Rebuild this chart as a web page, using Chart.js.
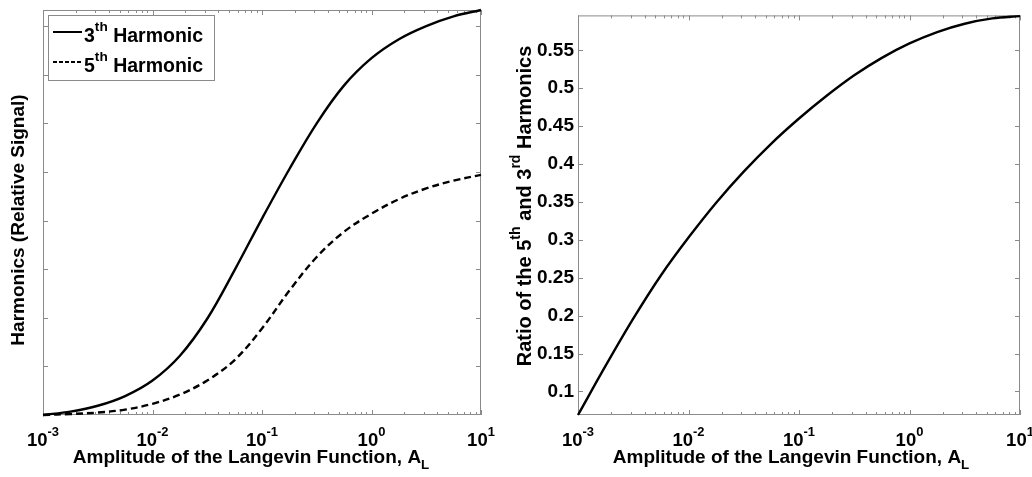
<!DOCTYPE html>
<html>
<head>
<meta charset="utf-8">
<script src="https://cdn.jsdelivr.net/npm/chart.js@4.4.1/dist/chart.umd.min.js"></script>
<style>
  html, body { margin: 0; padding: 0; background: #fff; }
  #wrap { position: relative; width: 1032px; height: 477px; overflow: hidden; }
  canvas { position: absolute; top: 0; }
  #left { left: 0; }
  #right { left: 500px; }
</style>
</head>
<body>
<div id="wrap">
  <canvas id="left" width="500" height="477"></canvas>
  <canvas id="right" width="532" height="477"></canvas>
</div>
<script>
// ── Data ──────────────────────────────────────────────────
const amplitude = [0.001, 0.00178, 0.00316, 0.00562, 0.01, 0.0178, 0.0316, 0.0562,
  0.1, 0.178, 0.316, 0.562, 1, 1.78, 3.16, 5.62, 10];
const harmonic3 = [0, 0.07, 0.19, 0.39, 0.71, 1.22, 1.98, 2.98,
  4.04, 5.06, 6.0, 6.78, 7.34, 7.73, 8.0, 8.2, 8.33];
const harmonic5 = [0, 0.02, 0.05, 0.11, 0.23, 0.42, 0.71, 1.13,
  1.78, 2.56, 3.25, 3.77, 4.14, 4.44, 4.66, 4.82, 4.94];
const ratio53 = [0.069, 0.134, 0.196, 0.253, 0.303, 0.349, 0.39, 0.427,
  0.46, 0.49, 0.517, 0.54, 0.559, 0.574, 0.585, 0.592, 0.595];

const xDecades = [-3, -2, -1, 0, 1];
const leftTicks = [1, 2, 3, 4, 5, 6, 7, 8];
const ratioTicks = [0.1, 0.15, 0.2, 0.25, 0.3, 0.35, 0.4, 0.45, 0.5, 0.55];
const ratioLabels = ["0.1", "0.15", "0.2", "0.25", "0.3", "0.35", "0.4", "0.45", "0.5", "0.55"];

// ── Style helpers ─────────────────────────────────────────
const FAMILY = '"Liberation Sans", Arial, Helvetica, sans-serif';
const AXIS_GRAY = "#8a8a8a";
const font = (size) => `bold ${size}px ${FAMILY}`;

// parts: [text, shift] with shift 1 = superscript, -1 = subscript
function richWidth(ctx, parts, size) {
  let w = 0;
  for (const [t, s] of parts) {
    ctx.font = font(s ? size * 0.7 : size);
    w += ctx.measureText(t).width;
  }
  return w;
}

function drawRich(ctx, parts, x, y, size, align) {
  const w = richWidth(ctx, parts, size);
  let cx = align === "center" ? x - w / 2 : align === "right" ? x - w : x;
  ctx.textAlign = "left";
  ctx.textBaseline = "alphabetic";
  for (const [t, s] of parts) {
    const fs = s ? size * 0.7 : size;
    ctx.font = font(fs);
    const dy = s === 1 ? -size * 0.55 : s === -1 ? size * 0.3 : 0;
    ctx.fillText(t, cx, y + dy);
    cx += ctx.measureText(t).width;
  }
}

const toPoints = (ys) => ys.map((v, i) => ({ x: amplitude[i], y: v }));

// frame + inward ticks, drawn under the curves
const frameTicks = {
  id: "frameTicks",
  beforeDatasetsDraw(chart) {
    const { ctx, chartArea: a, scales: { x, y } } = chart;
    ctx.save();
    ctx.strokeStyle = AXIS_GRAY;
    ctx.lineWidth = 1;
    ctx.strokeRect(a.left + 0.5, a.top + 0.5, a.right - a.left - 1, a.bottom - a.top - 1);
    ctx.beginPath();
    for (const e of xDecades) {
      for (let m = 1; m <= 9; m++) {
        const v = m * Math.pow(10, e);
        if (v > x.max * 1.0001) break;
        const px = Math.round(x.getPixelForValue(v)) + 0.5;
        const len = m === 1 ? 5 : 3;
        ctx.moveTo(px, a.bottom); ctx.lineTo(px, a.bottom - len);
        ctx.moveTo(px, a.top); ctx.lineTo(px, a.top + len);
      }
    }
    for (const t of y.ticks) {
      const py = Math.round(y.getPixelForValue(t.value)) + 0.5;
      ctx.moveTo(a.left, py); ctx.lineTo(a.left + 5, py);
      ctx.moveTo(a.right, py); ctx.lineTo(a.right - 5, py);
    }
    ctx.stroke();
    ctx.restore();
  },
};

// rich text: x tick labels, axis titles, legend
const richText = {
  id: "richText",
  afterDraw(chart, args, opts) {
    const { ctx, chartArea: a, scales: { x } } = chart;
    ctx.save();
    ctx.fillStyle = "#000";
    for (const e of xDecades) {
      const px = x.getPixelForValue(Math.pow(10, e));
      drawRich(ctx, [["10", 0], [String(e), 1]], px, a.bottom + 31, 18.5, "center");
    }
    drawRich(ctx, [["Amplitude of the Langevin Function, A", 0], ["L", -1]],
      (a.left + a.right) / 2 + opts.xTitleShift, a.bottom + 48, 19, "center");

    ctx.save();
    ctx.translate(opts.yTitleX, opts.yTitleY);
    ctx.rotate(-Math.PI / 2);
    drawRich(ctx, opts.yTitle, 0, 0, opts.yTitleSize, "center");
    ctx.restore();

    if (opts.legend) {
      const lg = opts.legend;
      ctx.fillStyle = "#fff";
      ctx.fillRect(lg.x, lg.y, lg.w, lg.h);
      ctx.strokeStyle = AXIS_GRAY;
      ctx.lineWidth = 1;
      ctx.strokeRect(lg.x + 0.5, lg.y + 0.5, lg.w, lg.h);
      chart.data.datasets.forEach((ds, i) => {
        const ly = lg.y + 17 + i * 30;
        ctx.strokeStyle = "#000";
        ctx.lineWidth = 2;
        ctx.setLineDash(i ? [4, 2] : []);
        ctx.beginPath();
        ctx.moveTo(lg.x + 5, ly);
        ctx.lineTo(lg.x + 34, ly);
        ctx.stroke();
        ctx.setLineDash([]);
        ctx.fillStyle = "#000";
        drawRich(ctx, lg.items[i], lg.x + 36, ly + 10, 19.5, "left");
      });
    }
    ctx.restore();
  },
};

function baseOptions(pad, yWidth, yScale, rich) {
  return {
    responsive: false,
    animation: false,
    devicePixelRatio: 1,
    layout: { padding: pad },
    plugins: { legend: { display: false }, tooltip: { enabled: false }, richText: rich },
    scales: {
      x: {
        type: "logarithmic",
        min: 0.001,
        max: 10,
        grid: { display: false, drawTicks: false },
        border: { display: false },
        ticks: { display: false },
        afterFit: (s) => { s.height = 62; },
      },
      y: {
        type: "linear",
        grid: { display: false, drawTicks: false },
        border: { display: false },
        afterFit: (s) => { s.width = yWidth; },
        ...yScale,
      },
    },
  };
}

const curveStyle = {
  borderColor: "#000",
  borderWidth: 2.4,
  pointRadius: 0,
  tension: 0.35,
  fill: false,
  clip: 4,
};

new Chart(document.getElementById("left"), {
  type: "line",
  data: {
    datasets: [
      { label: "3th Harmonic", data: toPoints(harmonic3), ...curveStyle },
      { label: "5th Harmonic", data: toPoints(harmonic5), ...curveStyle, borderDash: [7, 4] },
    ],
  },
  options: baseOptions(
    { top: 10, right: 19, left: 0, bottom: 0 },
    43,
    {
      min: 0,
      max: 8.33,
      ticks: { display: false },
      afterBuildTicks: (s) => { s.ticks = leftTicks.map((v) => ({ value: v })); },
    },
    {
      xTitleShift: -11,
      yTitleX: 24,
      yTitleY: 220,
      yTitleSize: 19,
      yTitle: [["Harmonics (Relative Signal)", 0]],
      legend: {
        x: 48, y: 15, w: 166, h: 65,
        items: [
          [["3", 0], ["th", 1], [" Harmonic", 0]],
          [["5", 0], ["th", 1], [" Harmonic", 0]],
        ],
      },
    }
  ),
  plugins: [frameTicks, richText],
});

new Chart(document.getElementById("right"), {
  type: "line",
  data: {
    datasets: [
      { label: "Ratio of the 5th and 3rd Harmonics", data: toPoints(ratio53), ...curveStyle },
    ],
  },
  options: baseOptions(
    { top: 8, right: 12, left: 0, bottom: 0 },
    78,
    {
      min: 0.069,
      max: 0.596,
      afterBuildTicks: (s) => { s.ticks = ratioTicks.map((v) => ({ value: v })); },
      ticks: {
        color: "#000",
        padding: 4,
        font: { family: FAMILY, size: 19, weight: "bold" },
        callback: (v, i) => ratioLabels[i],
      },
    },
    {
      xTitleShift: -8,
      yTitleX: 31,
      yTitleY: 206,
      yTitleSize: 20,
      yTitle: [["Ratio of the 5", 0], ["th", 1], [" and 3", 0], ["rd", 1], [" Harmonics", 0]],
    }
  ),
  plugins: [frameTicks, richText],
});
</script>
</body>
</html>
